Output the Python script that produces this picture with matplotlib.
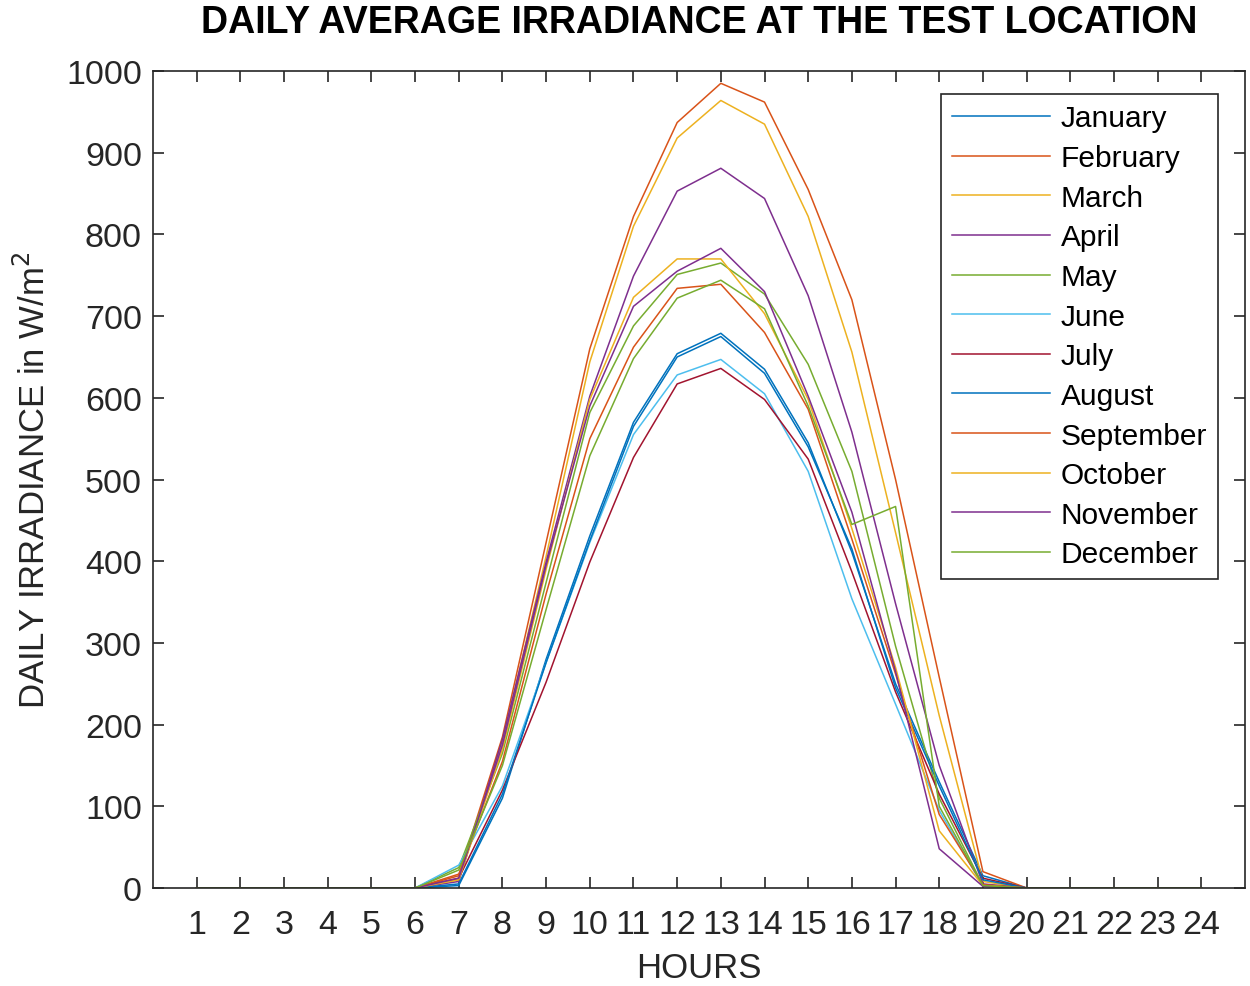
import numpy as np
import matplotlib
matplotlib.use("Agg")
import matplotlib.pyplot as plt

plt.rcParams['font.family'] = ['Liberation Sans', 'DejaVu Sans']

hours = np.arange(1, 25)
months = ['January', 'February', 'March', 'April', 'May', 'June',
          'July', 'August', 'September', 'October', 'November', 'December']

# irradiance (W/m^2) for hours 7..20, zero elsewhere
jan = [3, 110, 280, 431, 570, 654, 679, 635, 545, 411, 250, 130, 15, 0]
feb = [15, 185, 423, 660, 822, 937, 985, 962, 855, 720, 500, 258, 20, 0]
mar = [10, 178, 406, 644, 810, 918, 964, 935, 822, 656, 435, 211, 8, 0]
apr = [8, 182, 399, 602, 749, 853, 881, 844, 725, 558, 348, 150, 5, 0]
may = [25, 165, 374, 582, 688, 751, 765, 727, 641, 510, 296, 110, 3, 0]
jun = [28, 125, 276, 423, 555, 628, 647, 605, 510, 354, 225, 95, 2, 0]
jul = [12, 120, 252, 399, 527, 617, 636, 598, 525, 387, 240, 115, 12, 0]
aug = [5, 115, 276, 425, 565, 650, 675, 630, 540, 415, 245, 125, 10, 0]
sep = [17, 155, 360, 550, 662, 734, 739, 680, 586, 427, 262, 90, 4, 0]
octo = [10, 170, 390, 598, 723, 770, 770, 703, 598, 440, 270, 70, 3, 0]
nov = [12, 175, 395, 590, 712, 755, 783, 730, 602, 460, 265, 48, 2, 0]
dec = [22, 150, 341, 529, 648, 722, 744, 709, 590, 445, 467, 100, 3, 0]

series = [jan, feb, mar, apr, may, jun, jul, aug, sep, octo, nov, dec]

# MATLAB default line colours
colors = ['#0072BD', '#D95319', '#EDB120', '#7E2F8E', '#77AC30', '#4DBEEE', '#A2142F']

fig = plt.figure(figsize=(12.5, 9.87), dpi=100)
ax = fig.add_axes([0.1224, 0.0993, 0.8736, 0.8277])

for i, (name, vals) in enumerate(zip(months, series)):
    y = np.zeros(24)
    y[6:20] = vals
    ax.plot(hours, y, color=colors[i % 7], lw=1.1, label=name)

ax.set_xlim(0, 25)
ax.set_ylim(0, 1000)
ax.set_xticks(hours)
ax.set_yticks(np.arange(0, 1001, 100))
ax.tick_params(direction='in', length=8, width=1.2, top=True, right=True,
               labelsize=24.5, colors='#262626')
ax.tick_params(axis='x', pad=15)
ax.tick_params(axis='y', pad=8)
for s in ax.spines.values():
    s.set_linewidth(1.2)
    s.set_color('#262626')

ax.set_xlabel('HOURS', fontsize=25, color='#262626', labelpad=8)
ax.set_ylabel('DAILY IRRADIANCE in W/m$^2$', fontsize=25, color='#262626', labelpad=10)
fig.suptitle('DAILY AVERAGE IRRADIANCE AT THE TEST LOCATION', fontsize=27,
             fontweight='bold', x=0.559, y=0.995)

leg = ax.legend(loc='upper right', bbox_to_anchor=(0.975, 0.972), fontsize=21.5,
                frameon=True, fancybox=False, edgecolor='#262626', framealpha=1,
                handlelength=3.3, handletextpad=0.35, labelspacing=0.39,
                borderpad=0.35, borderaxespad=0)
leg.get_frame().set_linewidth(1.2)

fig.savefig('out.png', dpi=100)
